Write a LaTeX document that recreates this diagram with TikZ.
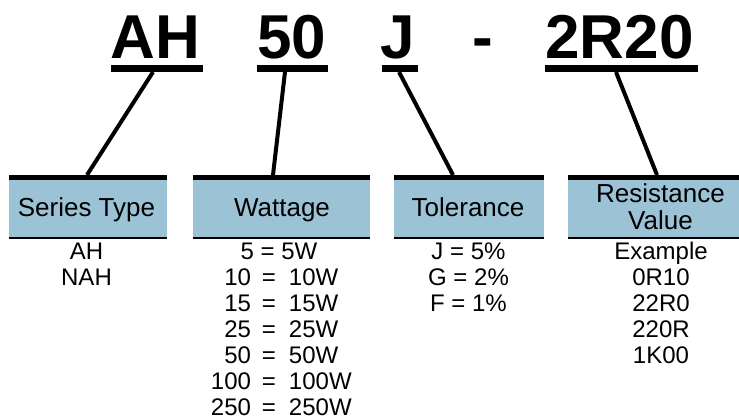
\documentclass[tikz,border=0pt]{standalone}
\usepackage{fontspec}
\setmainfont{Liberation Sans}
\definecolor{hdrblue}{RGB}{155,194,213}
\tikzset{
  titletext/.style={font=\fontsize{62}{62}\selectfont\bfseries, inner sep=0pt, anchor=base},
  uline/.style={line width=7pt},
  conn/.style={line width=4pt},
  hdrbox/.style={fill=hdrblue, draw=none, inner sep=0pt},
  topbar/.style={line width=5pt},
  botbar/.style={line width=2.5pt},
  hdrtext/.style={font=\fontsize{26}{27}\selectfont, inner sep=0pt, anchor=base},
  hdrtwo/.style={font=\fontsize{26}{27}\selectfont, inner sep=0pt, align=center},
  listtext/.style={font=\fontsize{24}{26}\selectfont, inner sep=0pt, anchor=base},
}
\newcommand{\wrow}[2]{\llap{#1\hspace{11pt}}=\rlap{\hspace{13pt}#2}}
\begin{document}
\begin{tikzpicture}[x=1pt,y=-1pt]
\useasboundingbox (0,0) rectangle (739,419);

% ---- title codes ----
\node[titletext] (tAH) at (155.5,59) {AH};
\node[titletext] (t50) at (291.5,59) {50};
\node[titletext] (tJ)  at (398,59)   {J};
\node[titletext] (tdash) at (482.5,59) {-};
\node[titletext] (tR)  at (619.5,59) {2R20};

% underlines
\draw[uline] (111,68.5) -- (203,68.5);
\draw[uline] (257,68.5) -- (328,68.5);
\draw[uline] (382,68.5) -- (418,68.5);
\draw[uline] (545,68.5) -- (698,68.5);

% ---- header boxes ----
\node[hdrbox, minimum width=158pt, minimum height=64pt] (st) at (88,207) {};
\node[hdrbox, minimum width=177pt, minimum height=64pt] (wt) at (281.5,207) {};
\node[hdrbox, minimum width=150pt, minimum height=64pt] (tl) at (469,207) {};
\node[hdrbox, minimum width=171pt, minimum height=64pt] (rv) at (653.5,207) {};
\foreach \b in {st,wt,tl,rv}{
  \draw[topbar] ([yshift=-2.5pt]\b.north west) -- ([yshift=-2.5pt]\b.north east);
  \draw[botbar] ([yshift=1.25pt]\b.south west) -- ([yshift=1.25pt]\b.south east);
}

% ---- connectors ----
\coordinate (cAH) at (153,72);  \coordinate (cST) at (87,175);
\coordinate (c50) at (285,72);  \coordinate (cWT) at (273,175);
\coordinate (cJ)  at (399,72);  \coordinate (cTL) at (453,175);
\coordinate (cR)  at (616,72);  \coordinate (cRV) at (657,175);
\draw[conn] (cAH) -- (cST);
\draw[conn] (c50) -- (cWT);
\draw[conn] (cJ) -- (cTL);
\draw[conn] (cR) -- (cRV);

% ---- header labels ----
\node[hdrtext] (lST) at (86.5,216.5) {Series Type};
\node[hdrtext] (lWT) at (282,216.5) {Wattage};
\node[hdrtext] (lTL) at (468,216.5) {Tolerance};
\node[hdrtwo] (lRV) at (660.5,207) {Resistance\\Value};

% ---- lists ----
\node[listtext] (s1) at (86.5,260) {AH};
\node[listtext] (s2) at (86.5,286) {NAH};

\node[listtext] (w1) at (279,260) {5 = 5W};
\node[listtext] (w2) at (269,286) {\wrow{10}{10W}};
\node[listtext] (w3) at (269,312) {\wrow{15}{15W}};
\node[listtext] (w4) at (269,338) {\wrow{25}{25W}};
\node[listtext] (w5) at (269,364) {\wrow{50}{50W}};
\node[listtext] (w6) at (269,390) {\wrow{100}{100W}};
\node[listtext] (w7) at (269,415.5) {\wrow{250}{250W}};

\node[listtext] (o1) at (468.5,260) {J = 5\%};
\node[listtext] (o2) at (468.5,286) {G = 2\%};
\node[listtext] (o3) at (468.5,312) {F = 1\%};

\node[listtext] (r1) at (661,260) {Example};
\node[listtext] (r2) at (661,286) {0R10};
\node[listtext] (r3) at (661,312) {22R0};
\node[listtext] (r4) at (661,338) {220R};
\node[listtext] (r5) at (661,364) {1K00};
\end{tikzpicture}
\end{document}
